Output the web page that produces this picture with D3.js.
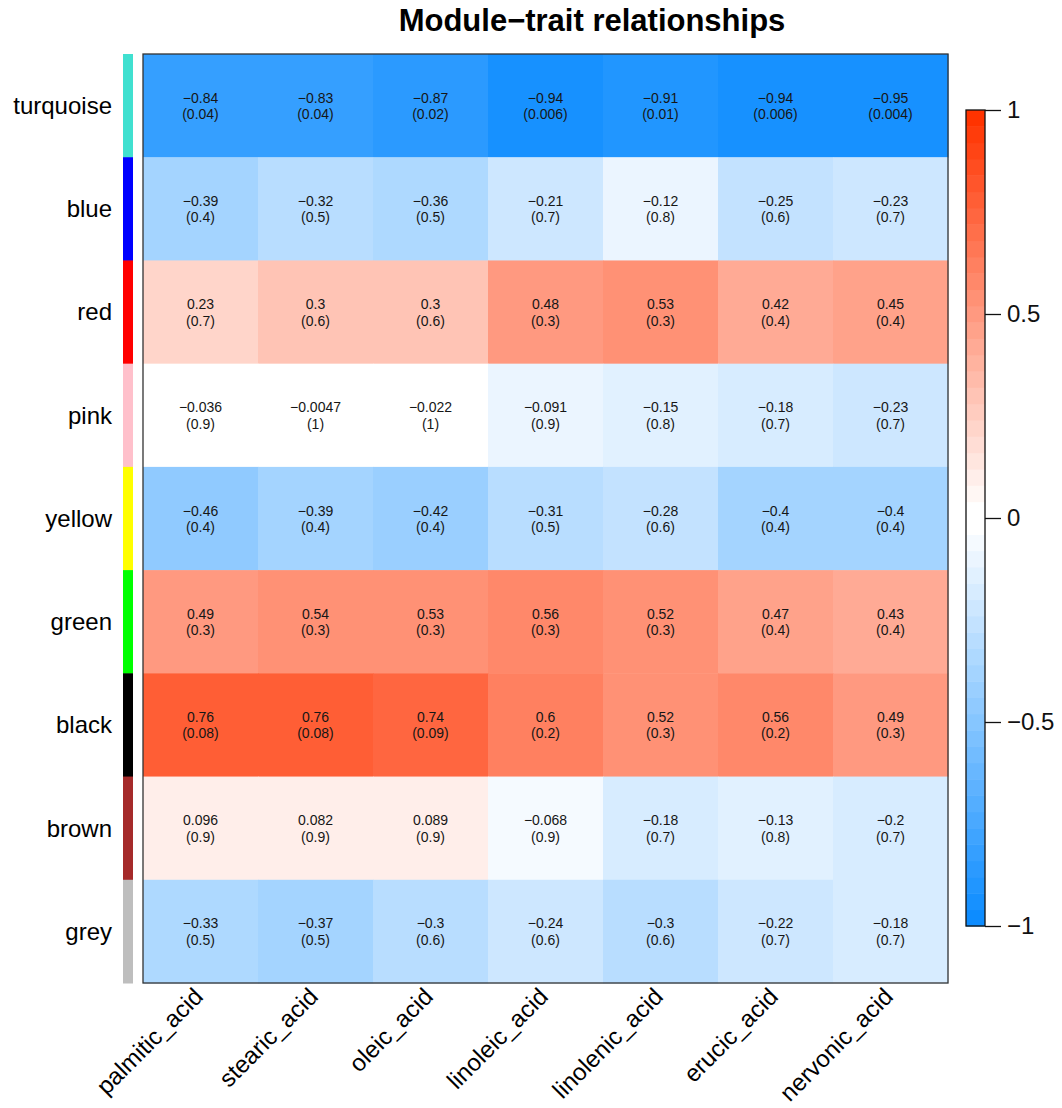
<!DOCTYPE html>
<html>
<head>
<meta charset="utf-8">
<script src="https://cdn.jsdelivr.net/npm/d3@7"></script>
<style>
  body { margin: 0; background: #fff; }
  svg { font-family: "Liberation Sans", Arial, Helvetica, sans-serif; }
</style>
</head>
<body>
<svg id="chart" width="1062" height="1108"></svg>
<script>
"use strict";

// module eigengenes (rows) and traits (columns)
const moduleNames = ["turquoise", "blue", "red", "pink", "yellow", "green", "black", "brown", "grey"];
const traitNames = ["palmitic_acid", "stearic_acid", "oleic_acid", "linoleic_acid", "linolenic_acid", "erucic_acid", "nervonic_acid"];

const corValues = [
	[-0.84, -0.83, -0.87, -0.94, -0.91, -0.94, -0.95],
	[-0.39, -0.32, -0.36, -0.21, -0.12, -0.25, -0.23],
	[0.23, 0.3, 0.3, 0.48, 0.53, 0.42, 0.45],
	[-0.036, -0.0047, -0.022, -0.091, -0.15, -0.18, -0.23],
	[-0.46, -0.39, -0.42, -0.31, -0.28, -0.4, -0.4],
	[0.49, 0.54, 0.53, 0.56, 0.52, 0.47, 0.43],
	[0.76, 0.76, 0.74, 0.6, 0.52, 0.56, 0.49],
	[0.096, 0.082, 0.089, -0.068, -0.18, -0.13, -0.2],
	[-0.33, -0.37, -0.3, -0.24, -0.3, -0.22, -0.18]
];
const pValues = [
	[0.04, 0.04, 0.02, 0.006, 0.01, 0.006, 0.004],
	[0.4, 0.5, 0.5, 0.7, 0.8, 0.6, 0.7],
	[0.7, 0.6, 0.6, 0.3, 0.3, 0.4, 0.4],
	[0.9, 1, 1, 0.9, 0.8, 0.7, 0.7],
	[0.4, 0.4, 0.4, 0.5, 0.6, 0.4, 0.4],
	[0.3, 0.3, 0.3, 0.3, 0.3, 0.4, 0.4],
	[0.08, 0.08, 0.09, 0.2, 0.3, 0.2, 0.3],
	[0.9, 0.9, 0.9, 0.9, 0.7, 0.8, 0.7],
	[0.5, 0.5, 0.6, 0.6, 0.6, 0.7, 0.7]
];
const legendTicks = [-1, -0.5, 0, 0.5, 1];

// R colour names for the side strip (grey in R is lighter than css grey)
const stripColors = {grey: "#bebebe", brown: "#a52a2a", green: "#00ff00"};

let svg = d3.select("#chart");
let plotLeft = 143, plotRight = 948, plotTop = 54, plotBottom = 983;

let x = d3.scaleBand().domain(traitNames).range([plotLeft, plotRight]);
let y = d3.scaleBand().domain(moduleNames).range([plotTop, plotBottom]);

// blueWhiteRed(50) as in WGCNA: 25 steps blue->white, 25 steps white->red
let blueEnd = "rgb(13,140,255)", redEnd = "rgb(255,51,0)";
let half = 25;
let palette = d3.range(half).map(i => d3.interpolateRgb(blueEnd, "#fff")(i / (half - 1)))
	.concat(d3.range(half).map(i => d3.interpolateRgb("#fff", redEnd)(i / (half - 1))));
let color = d3.scaleQuantize().domain([-1, 1]).range(palette);

function fmt(v)
{
	return String(v).replace("-", "\u2212");
}

let cells = [];
moduleNames.forEach(function(m, i)
{
	traitNames.forEach(function(t, j)
	{
		cells.push({module: m, trait: t, r: corValues[i][j], p: pValues[i][j]});
	});
});

// title
svg.append("text")
	.attr("x", 592)
	.attr("y", 31)
	.attr("text-anchor", "middle")
	.style("font-size", "31px")
	.style("font-weight", "bold")
	.text("Module\u2212trait relationships");

// heatmap cells
svg.append("g")
	.selectAll("rect")
	.data(cells)
	.enter().append("rect")
	.attr("x", d => x(d.trait))
	.attr("y", d => y(d.module))
	.attr("width", x.bandwidth() + 0.5)
	.attr("height", y.bandwidth() + 0.5)
	.attr("fill", d => color(d.r));

let labels = svg.append("g")
	.selectAll("text")
	.data(cells)
	.enter().append("text")
	.attr("text-anchor", "middle")
	.style("font-size", "14px")
	.attr("fill", "#161616");
labels.append("tspan")
	.attr("x", d => x(d.trait) + x.bandwidth() / 2)
	.attr("y", d => y(d.module) + y.bandwidth() / 2 - 3)
	.text(d => fmt(d.r));
labels.append("tspan")
	.attr("x", d => x(d.trait) + x.bandwidth() / 2)
	.attr("y", d => y(d.module) + y.bandwidth() / 2 + 13.5)
	.text(d => "(" + d.p + ")");

// frame
svg.append("rect")
	.attr("x", plotLeft)
	.attr("y", plotTop)
	.attr("width", plotRight - plotLeft)
	.attr("height", plotBottom - plotTop)
	.attr("fill", "none")
	.attr("stroke", "#333")
	.attr("stroke-width", 1.3);

// module colour strip
svg.append("g")
	.selectAll("rect")
	.data(moduleNames)
	.enter().append("rect")
	.attr("x", 123)
	.attr("y", d => y(d))
	.attr("width", 10)
	.attr("height", y.bandwidth() + 0.5)
	.attr("fill", d => stripColors[d] || d);

// row labels
svg.append("g")
	.selectAll("text")
	.data(moduleNames)
	.enter().append("text")
	.attr("x", 112)
	.attr("y", d => y(d) + y.bandwidth() / 2)
	.attr("dy", "0.35em")
	.attr("text-anchor", "end")
	.style("font-size", "24px")
	.text(d => d);

// column labels, rotated
svg.append("g")
	.selectAll("text")
	.data(traitNames)
	.enter().append("text")
	.attr("transform", d => "translate(" + (x(d) + x.bandwidth() / 2 + 4) + "," + 998 + ") rotate(-45)")
	.attr("text-anchor", "end")
	.style("font-size", "24px")
	.text(d => d);

// colour legend, one block per palette colour
let legendTop = 110, legendBottom = 926, legendLeft = 966, legendWidth = 19;
let ly = d3.scaleLinear().domain([-1, 1]).range([legendBottom, legendTop]);

svg.append("g")
	.selectAll("rect")
	.data(palette)
	.enter().append("rect")
	.attr("x", legendLeft)
	.attr("y", d => ly(color.invertExtent(d)[1]))
	.attr("width", legendWidth)
	.attr("height", d => ly(color.invertExtent(d)[0]) - ly(color.invertExtent(d)[1]) + 0.5)
	.attr("fill", d => d);

svg.append("rect")
	.attr("x", legendLeft)
	.attr("y", legendTop)
	.attr("width", legendWidth)
	.attr("height", legendBottom - legendTop)
	.attr("fill", "none")
	.attr("stroke", "#111")
	.attr("stroke-width", 1.3);

let legendAxis = svg.append("g")
	.attr("transform", "translate(" + (legendLeft + legendWidth) + ",0)")
	.call(d3.axisRight(ly)
		.tickValues(legendTicks)
		.tickSize(16)
		.tickPadding(6)
		.tickFormat(d => fmt(d)));
legendAxis.select(".domain").remove();
legendAxis.selectAll(".tick line").attr("stroke", "#111").attr("stroke-width", 1.3);
legendAxis.selectAll("text")
	.style("font-size", "24px")
	.style("font-family", "\"Liberation Sans\", Arial, sans-serif")
	.attr("fill", "#111");
</script>
</body>
</html>
